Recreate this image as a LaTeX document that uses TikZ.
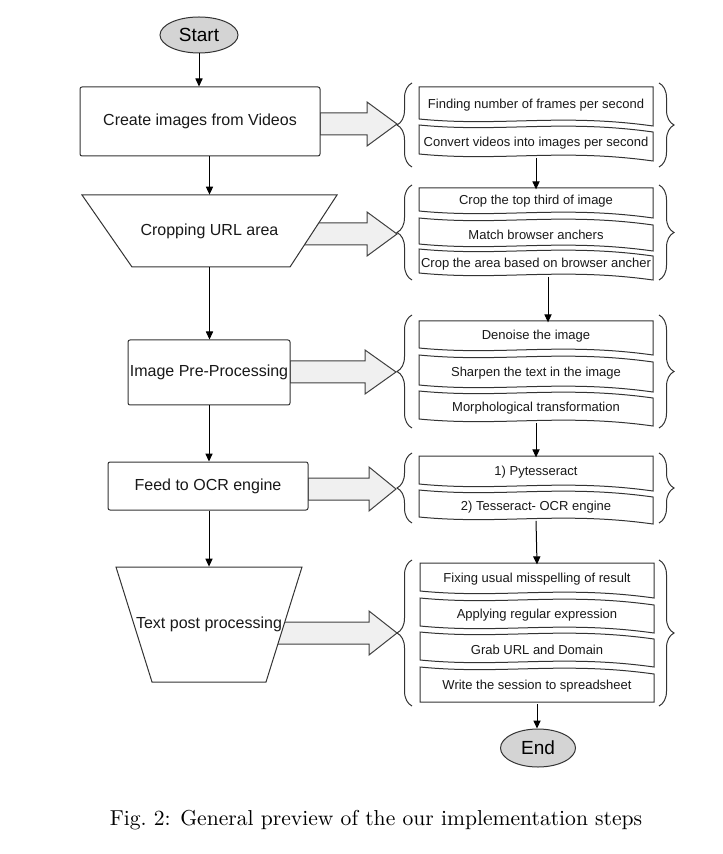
\documentclass[tikz,border=0pt]{standalone}
\usepackage{fontspec}
\newfontfamily\arial{Liberation Sans}
\usetikzlibrary{arrows.meta,shapes.geometric,decorations.pathreplacing,calc}

% stacked sub-step box with wavy top/bottom edges:
% #1 name, #2 left x, #3 right x, #4 top y, #5 bottom y,
% #6 wavy top (0/1), #7 wavy bottom (0/1), #8 text
\newcommand\wavebox[8]{%
  \draw[line, fill=white]
    (#2,#5) -- (#2,#4)
    .. controls ({#2+0.35*(#3-#2)},{#4+8*#6}) and ({#2+0.6*(#3-#2)},{#4-6*#6}) .. (#3,{#4+7*#6})
    -- (#3,{#5+7*#7})
    .. controls ({#2+0.6*(#3-#2)},{#5-6*#7}) and ({#2+0.35*(#3-#2)},{#5+8*#7}) .. (#2,#5)
    -- cycle;
  \node[wtext, minimum width={(#3-#2)*0.5pt}, minimum height={(#5-#4)*0.5pt}]
    (#1) at ({(#2+#3)/2},{(#4+#5+3.5*#6+3.5*#7)/2}) {#8};
}

% wide hollow arrow: #1 start x, #2 head x, #3 tip x, #4 centre y
\newcommand\blockarrow[4]{%
  \draw[barrow] (#1,#4-11) -- (#2,#4-11) -- (#2,#4-22) -- (#3,#4)
    -- (#2,#4+22) -- (#2,#4+11) -- (#1,#4+11) -- cycle;
}

% pair of curly braces around a group: #1 top y, #2 bottom y
\newcommand\groupbraces[2]{%
  \draw[line, decorate, decoration={brace, amplitude=7.5pt}] (412,#2) -- (412,#1);
  \draw[line, decorate, decoration={brace, amplitude=7.5pt}] (659,#1) -- (659,#2);
}

\begin{document}
\begin{tikzpicture}[x=0.5pt, y=-0.5pt,
  line/.style={draw=black!80, line width=0.5pt},
  conn/.style={draw=black, line width=0.5pt, -{Triangle[length=4pt,width=3.6pt]}},
  barrow/.style={draw=black!75, line width=0.5pt, fill=black!6},
  mainlabel/.style={font=\arial\fontsize{8}{9.6}\selectfont, text=black!90, inner sep=0pt},
  mainbox/.style={mainlabel, line, fill=white, rounded corners=1pt},
  term/.style={ellipse, line, fill=black!17, inner sep=0pt,
    font=\arial\fontsize{9.5}{11}\selectfont},
  shapelabel/.style={mainlabel, draw=none},
  wtext/.style={font=\arial\fontsize{6.5}{7.8}\selectfont, text=black!90, inner sep=0pt, draw=none},
]
\useasboundingbox (0,0) rectangle (722,854);

% wide arrows from each step to its sub-steps
\blockarrow{320}{367}{397}{124}
\blockarrow{300}{367}{397}{234}
\blockarrow{290}{365}{396}{372}
\blockarrow{308}{369}{396}{489}
\blockarrow{275}{369}{397}{633}

% main steps
\node[term, minimum width=39pt, minimum height=18pt] (start) at (199,35) {Start};
\node[mainbox, draw, minimum width=120pt, minimum height=34.5pt] (create) at (200,121.5) {Create images from Videos};

\draw[line, fill=white] (82,195) -- (337,195) -- (290,267) -- (132,267) -- cycle;
\node[shapelabel, minimum width=127.5pt, minimum height=36pt] (crop) at (209.5,231) {Cropping URL area};

\node[mainbox, draw, minimum width=81pt, minimum height=32.5pt] (pre) at (209,372.5) {Image Pre-Processing};
\node[mainbox, draw, minimum width=100pt, minimum height=24pt] (feed) at (208,486) {Feed to OCR engine};

\draw[line, fill=white] (116,567) -- (302,567) -- (266,682) -- (152,682) -- cycle;
\node[shapelabel, minimum width=93pt, minimum height=57.5pt] (post) at (209,624.5) {Text post processing};

% sub-step groups
\groupbraces{83}{167}
\wavebox{g1a}{419}{653}{87}{119}{0}{1}{Finding number of frames per second}
\wavebox{g1b}{419}{653}{125}{154}{1}{1}{Convert videos into images per second}

\groupbraces{185}{280}
\wavebox{g2a}{419}{653}{188}{211}{0}{1}{Crop the top third of image}
\wavebox{g2b}{419}{653}{218}{244}{1}{1}{Match browser anchers}
\wavebox{g2c}{419}{653}{249}{273}{1}{1}{Crop the area based on browser ancher}

\groupbraces{315}{428}
\wavebox{g3a}{419}{653}{321}{348}{0}{1}{Denoise the image}
\wavebox{g3b}{419}{653}{355}{385}{1}{1}{Sharpen the text in the image}
\wavebox{g3c}{419}{653}{391}{419}{1}{1}{Morphological transformation}

\groupbraces{453}{523}
\wavebox{g4a}{419}{653}{456}{484}{0}{1}{1) Pytesseract}
\wavebox{g4b}{419}{653}{490}{517}{1}{1}{2) Tesseract- OCR engine}

\groupbraces{560}{706}
\wavebox{g5a}{420}{654}{563}{591}{0}{1}{Fixing usual misspelling of result}
\wavebox{g5b}{420}{654}{598}{626}{1}{1}{Applying regular expression}
\wavebox{g5c}{420}{654}{632}{660}{1}{1}{Grab URL and Domain}
\wavebox{g5d}{420}{654}{667}{702}{1}{0}{Write the session to spreadsheet}

\node[term, minimum width=37.5pt, minimum height=19pt] (end) at (538,748) {End};

% flow of the main steps
\draw[conn] (start.south) -- (start.south |- create.north);
\draw[conn] (crop.north |- create.south) -- (crop.north);
\draw[conn] (crop.south) -- (crop.south |- pre.north);
\draw[conn] (pre.south) -- (pre.south |- feed.north);
\draw[conn] (post.north |- feed.south) -- (post.north);

% flow of the sub-step groups
\draw[conn] (g1b.south) -- (g2a.north);
\draw[conn] ([xshift=6pt]g2c.south) -- ([xshift=6pt]g3a.north);
\draw[conn] (g3c.south) -- (g4a.north);
\draw[conn] (g4b.south) -- (g5a.north);
\draw[conn] (g5d.south) -- (g5d.south |- end.north);

\node[font=\fontsize{10.8}{13}\selectfont] (caption) at (376,820) {Fig.~2: General preview of the our implementation steps};
\end{tikzpicture}
\end{document}
